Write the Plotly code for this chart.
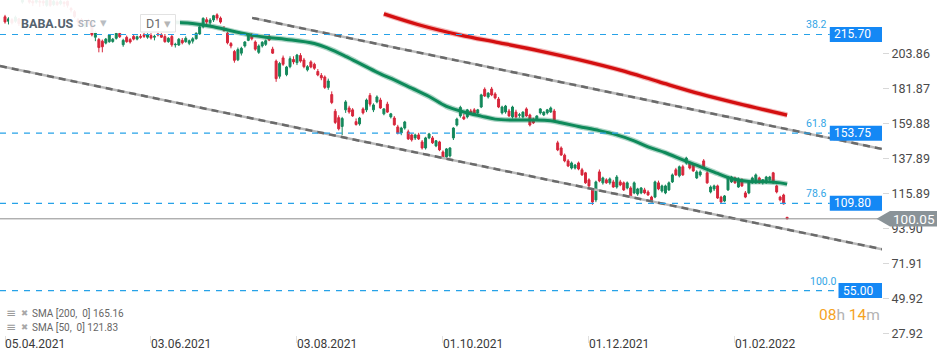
import plotly.graph_objects as go
import pandas as pd

# ------------------------------------------------------------------ data
HOLIDAYS = ["2021-05-31", "2021-07-05", "2021-09-06", "2021-11-25",
            "2021-12-24", "2022-01-17", "2022-02-21"]
dates = [d.strftime("%Y-%m-%d") for d in
         pd.bdate_range("2021-04-05", "2022-02-23", freq="C", holidays=HOLIDAYS)]

opens = [
    226.8, 224.0, 225.0, 224.0, 225.5,  236.0, 240.5, 239.0, 236.5, 236.0,
    236.5, 236.5, 234.0, 237.0, 234.5,  236.0, 235.0, 236.0, 236.5, 232.0,
    230.0, 225.0, 225.0, 221.0, 224.5,  223.0, 214.0, 212.5, 211.5, 210.3,
    211.2, 211.3, 213.3, 216.4, 209.3,  213.9, 212.5, 214.5, 212.8, 214.5,
    215.5, 214.0, 215.0, 214.0,  216.0, 215.5, 214.4, 211.2, 214.4,
    209.2, 209.1, 212.0, 211.2, 210.2,  211.5, 213.0, 216.0, 220.6, 225.0,
    223.0, 224.8, 228.0,
    226.0, 219.5,  216.5, 210.0, 205.0, 199.8,  204.0, 208.5, 212.0, 215.5, 211.0,
    204.5, 208.5, 209.5, 214.5, 206.5,  199.0, 189.5, 201.0, 190.5, 195.5,
    200.0, 198.0, 202.5, 199.7, 193.5,  198.5, 197.0, 192.5, 190.0, 189.0,
    182.5, 178.0, 167.5, 163.5, 158.0,  168.4, 169.6, 168.4, 161.0, 159.6,
    169.0, 168.4,
    177.5, 168.4, 173.4,  174.6, 165.9, 172.0, 164.0,  163.3, 157.7, 153.9, 157.0, 154.6,
    152.7, 150.8, 152.7, 148.3, 144.5,  150.8, 150.8, 145.8, 148.3,
    142.0,  138.9, 139.5, 150.8, 158.9, 164.6,  164.0, 164.0, 167.7, 168.4, 166.5,
    170.2, 181.3, 176.5, 181.5, 178.4,  175.2, 166.5, 167.1, 167.7, 164.0,
    167.0, 165.0, 164.0, 169.0, 165.2,  162.6, 162.1, 166.5, 165.2, 166.5,
    167.1, 167.7, 147.7, 144.5, 140.0,  136.4, 131.9, 131.9, 135.1,  130.8, 128.9,
    124.5, 118.2, 111.9,  129.5, 122.6, 124.5, 122.6, 123.2,  120.0, 123.2, 122.6, 119.4, 119.4,
    116.3, 115.6, 116.3, 118.2,  116.9, 113.7, 113.7, 122.6, 117.5,
    116.3, 118.2, 123.2, 130.8, 127.0,  132.7, 135.1, 135.1, 133.8, 125.7,
    127.6, 136.4, 128.9, 116.9,  118.8, 120.7, 113.7, 111.2, 118.2,  123.2,
    125.7, 120.0, 124.5, 116.3,  116.3, 122.6, 122.6, 125.7, 122.6,
    122.6, 124.5, 128.9, 120.7, 113.7,  115.0, 101.0,
]
highs = [
    228.0, 226.5, 226.0, 227.5, 226.0,  242.5, 242.0, 240.0, 237.5, 238.5,
    237.5, 237.5, 237.5, 238.0, 237.5,  237.0, 237.5, 236.5, 237.0, 233.0,
    231.0, 226.0, 226.0, 223.5, 225.5,  224.0, 218.0, 213.5, 212.5, 213.5,
    216.0, 213.5, 217.5, 217.5, 213.0,  215.0, 213.5, 215.5, 215.0, 216.0,
    217.0, 216.5, 216.5, 215.5,  218.0, 216.5, 216.0, 214.0, 215.5,
    210.5, 213.5, 213.5, 214.5, 212.5,  214.0, 217.0, 221.0, 226.5, 226.5,
    226.0, 228.0, 229.0,
    227.0, 221.0,  217.5, 211.0, 206.0, 207.5,  208.0, 211.5, 216.0, 216.5, 212.0,
    209.5, 211.5, 212.5, 216.0, 208.0,  200.0, 198.5, 202.5, 196.0, 202.0,
    202.0, 203.5, 204.0, 201.0, 196.5,  199.5, 198.0, 194.0, 191.5, 190.0,
    188.0, 180.0, 169.0, 165.0, 164.0,  174.5, 171.0, 169.5, 163.0, 164.0,
    170.0, 175.5,
    179.0, 172.5, 177.5,  176.0, 169.5, 173.5, 166.5,  164.5, 159.0, 157.8, 161.5, 156.0,
    153.5, 153.5, 154.0, 149.5, 151.5,  154.0, 152.0, 149.5, 149.0,
    143.0,  144.5, 145.0, 157.5, 163.5, 171.0,  166.0, 169.0, 169.0, 169.5, 169.0,
    178.5, 182.5, 179.5, 182.8, 179.5,  176.5, 171.0, 171.5, 169.0, 171.0,
    168.5, 166.5, 167.5, 170.0, 166.0,  163.5, 165.0, 169.5, 167.5, 169.0,
    170.5, 169.0, 149.0, 145.5, 141.0,  137.5, 136.0, 134.5, 136.0,  132.0, 129.5,
    125.5, 119.0, 124.0,  131.0, 126.5, 125.5, 126.0, 124.5,  127.5, 124.5, 123.5, 123.5, 120.5,
    123.5, 119.5, 120.0, 119.5,  118.0, 114.5, 124.0, 124.0, 121.5,
    121.5, 123.5, 128.5, 132.0, 133.5,  134.0, 139.0, 136.0, 134.5, 130.5,
    130.5, 137.5, 130.0, 121.0,  121.5, 121.5, 114.5, 115.0, 127.0,  127.0,
    126.5, 126.0, 125.5, 117.5,  123.5, 126.5, 128.5, 126.5, 125.0,
    127.0, 127.0, 129.5, 121.5, 114.5,  115.8, 101.2,
]
lows = [
    222.5, 222.0, 222.0, 223.0, 221.0,  235.0, 237.5, 235.0, 233.5, 235.0,
    233.0, 233.5, 233.0, 233.0, 233.5,  233.5, 234.0, 233.0, 232.5, 229.5,
    226.0, 221.0, 221.5, 219.5, 222.0,  214.5, 211.5, 204.5, 204.5, 209.5,
    210.5, 210.5, 212.5, 213.5, 208.0,  210.5, 210.0, 212.0, 212.0, 213.0,
    213.5, 213.0, 212.5, 212.0,  214.5, 213.5, 210.5, 210.5, 208.0,
    207.5, 208.5, 209.5, 210.5, 209.0,  210.0, 212.5, 215.5, 219.5, 222.0,
    221.5, 223.5, 224.5,
    222.5, 217.5,  209.5, 207.0, 198.0, 199.0,  202.5, 207.5, 211.5, 212.0, 205.5,
    203.5, 207.5, 208.5, 211.5, 203.5,  186.0, 188.0, 196.0, 189.5, 194.5,
    197.0, 196.5, 198.0, 194.5, 192.5,  194.5, 193.5, 189.5, 187.0, 181.5,
    181.0, 172.0, 159.5, 155.5, 152.5,  166.5, 166.0, 164.0, 158.5, 158.5,
    165.5, 167.0,
    170.5, 167.0, 172.5,  169.0, 165.0, 166.5, 163.0,  158.5, 153.0, 152.5, 156.0, 149.5,
    148.5, 149.5, 149.5, 143.5, 143.5,  150.0, 147.0, 145.0, 142.5,
    137.5,  137.5, 138.5, 149.5, 158.0, 163.5,  162.0, 163.0, 165.5, 165.0, 165.5,
    169.5, 176.5, 175.5, 177.0, 175.0,  169.5, 165.5, 166.0, 164.0, 163.0,
    163.0, 163.5, 163.0, 164.0, 158.0,  159.5, 161.5, 165.5, 164.5, 165.5,
    166.5, 161.5, 142.5, 139.5, 135.5,  132.5, 131.0, 131.0, 130.5,  127.0, 122.0,
    120.0, 108.8, 110.5,  123.0, 121.5, 122.0, 121.5, 119.5,  119.0, 120.5, 117.5, 118.5, 113.0,
    115.5, 114.5, 115.5, 115.5,  114.5, 110.5, 113.0, 118.0, 116.5,
    115.5, 117.5, 122.5, 127.0, 126.0,  127.0, 134.0, 131.0, 129.5, 125.0,
    126.5, 131.5, 122.0, 116.0,  117.5, 112.5, 110.0, 110.5, 117.5,  122.5,
    122.0, 119.5, 120.0, 113.0,  115.5, 122.0, 122.0, 122.0, 121.5,
    122.0, 123.5, 122.0, 116.0, 111.0,  109.0, 99.8,
]
closes = [
    223.6, 225.5, 223.0, 226.5, 222.5,  241.0, 239.5, 236.0, 235.5, 237.0,
    236.0, 235.5, 237.0, 234.0, 236.5,  234.5, 236.5, 235.0, 234.0, 231.0,
    227.0, 223.5, 222.0, 222.5, 223.5,  215.5, 216.6, 207.5, 208.0, 212.8,
    215.4, 212.7, 216.4, 214.3, 212.0,  211.2, 211.0, 212.8, 214.3, 214.0,
    214.5, 215.5, 213.5, 214.5,  215.5, 214.0, 211.2, 213.3, 209.2,
    209.5, 212.7, 210.5, 213.3, 211.8,  213.0, 216.5, 220.5, 225.8, 223.5,
    224.8, 227.5, 226.0,
    223.5, 218.2,  210.5, 208.5, 199.5, 206.2,  207.0, 211.0, 215.4, 213.0, 206.5,
    208.5, 210.8, 211.8, 212.2, 204.0,  188.0, 197.5, 197.0, 195.3, 200.5,
    198.5, 202.8, 199.0, 195.5, 195.5,  195.3, 194.5, 190.3, 188.5, 182.5,
    186.5, 173.0, 160.5, 156.5, 163.0,  173.4, 167.1, 164.6, 159.2, 163.3,
    166.5, 174.6,
    172.0, 171.5, 176.5,  169.6, 169.0, 167.0, 165.9,  159.0, 153.9, 157.0, 160.8, 150.2,
    149.6, 152.7, 150.2, 144.5, 150.8,  153.3, 147.7, 149.0, 143.3,
    138.3,  143.9, 144.5, 157.0, 162.6, 170.0,  162.7, 168.4, 166.5, 165.9, 168.4,
    177.8, 177.1, 178.9, 177.8, 175.9,  170.2, 170.2, 170.8, 164.6, 170.2,
    164.0, 165.3, 167.0, 164.6, 158.9,  160.2, 164.6, 169.0, 167.0, 168.4,
    169.6, 162.1, 143.3, 140.1, 136.4,  133.2, 135.1, 133.8, 131.3,  127.6, 122.6,
    120.7, 110.6, 123.2,  123.8, 125.7, 122.6, 125.1, 120.0,  126.3, 121.3, 118.2, 122.6, 113.7,
    122.6, 118.8, 119.4, 116.3,  115.0, 111.2, 123.2, 118.8, 120.7,
    120.7, 122.6, 127.6, 127.6, 132.7,  127.6, 138.2, 131.9, 130.1, 129.5,
    129.5, 132.0, 122.6, 120.0,  120.7, 113.1, 110.6, 114.4, 126.3,  126.3,
    122.6, 125.1, 120.7, 113.7,  122.6, 125.7, 127.6, 122.6, 124.5,
    126.3, 126.3, 122.6, 116.9, 111.9,  109.4, 100.05,
]
assert len(dates) == len(opens) == len(highs) == len(lows) == len(closes), \
    (len(dates), len(opens), len(highs), len(lows), len(closes))

sma50_dates = ["2021-06-14", "2021-06-22", "2021-06-29", "2021-07-07", "2021-07-14",
               "2021-07-21", "2021-07-29", "2021-08-10", "2021-08-16", "2021-08-23",
               "2021-08-30", "2021-09-07", "2021-09-13", "2021-09-20", "2021-09-27",
               "2021-10-04", "2021-10-11", "2021-10-18", "2021-10-22", "2021-10-29",
               "2021-11-05", "2021-11-15", "2021-11-18", "2021-11-26", "2021-12-06",
               "2021-12-13", "2021-12-20", "2021-12-27", "2022-01-03", "2022-01-10",
               "2022-01-18", "2022-01-25", "2022-01-31", "2022-02-07", "2022-02-14",
               "2022-02-18", "2022-02-23"]
sma50_values = [223.3, 222.3, 220.6, 218.0, 215.7,
                214.0, 212.6, 210.0, 207.0, 202.0,
                196.5, 191.0, 187.2, 182.0, 176.8,
                170.6, 167.1, 164.5, 162.6, 162.0,
                162.0, 161.6, 160.3, 158.0, 155.4,
                152.7, 149.0, 145.2, 141.5, 137.0,
                132.8, 128.5, 125.3, 123.4, 123.3,
                122.6, 121.83]

sma200_dates = ["2021-09-08", "2021-09-22", "2021-10-08", "2021-10-25", "2021-11-10",
                "2021-11-26", "2021-12-14", "2021-12-30", "2022-01-18", "2022-02-02",
                "2022-02-23"]
sma200_values = [228.6, 221.8, 215.3, 210.6, 205.3,
                 199.9, 193.3, 186.1, 178.4, 172.3,
                 165.16]

fib_levels = ["38.2", "61.8", "78.6", "100.0"]
fib_prices = [215.70, 153.75, 109.80, 55.00]

current_price = 100.05
sma_legend = ["SMA [200,&nbsp; 0] 165.16", "SMA [50,&nbsp; 0] 121.83"]

y_ticks = [27.92, 49.92, 71.91, 93.90, 115.89, 137.89, 159.88, 181.87, 203.86]
x_tick_dates = ["2021-04-05", "2021-06-03", "2021-08-03", "2021-10-01", "2021-12-01", "2022-02-01"]
x_tick_labels = ["05.04.2021", "03.06.2021", "03.08.2021", "01.10.2021", "01.12.2021", "01.02.2022"]

# channel trend lines (trading-day index, price)
upper_channel_x = [71.1, 252.3]
upper_channel_y = [226.1, 143.9]
lower_channel_x = [-1.44, 252.3]
lower_channel_y = [195.9, 81.0]

countdown_hours, countdown_minutes = "08", "14"

# ------------------------------------------------------------------ style
W, H = 950, 360
PLOT_W, PLOT_H = 882, 335
GREEN = "#14885b"
RED = "#d7263b"
BLUE_LINE = "#27a2e8"
BLUE_BOX = "#1488f5"
FONT = "Roboto, Arial, sans-serif"


def PX(px):
    return px / PLOT_W


def PY(py):
    return (PLOT_H - py) / PLOT_H


fig = go.Figure()
fig.add_trace(go.Candlestick(
    x=dates, open=opens, high=highs, low=lows, close=closes,
    increasing=dict(line=dict(color=GREEN, width=1), fillcolor=GREEN),
    decreasing=dict(line=dict(color=RED, width=1), fillcolor=RED),
    whiskerwidth=0, showlegend=False, hoverinfo="skip"))

fig.add_trace(go.Scatter(x=sma50_dates, y=sma50_values, mode="lines",
                         line=dict(color="rgba(20,136,91,0.35)", width=5.5, shape="spline"),
                         hoverinfo="skip", showlegend=False))
fig.add_trace(go.Scatter(x=sma50_dates, y=sma50_values, mode="lines",
                         line=dict(color="#0e8a5a", width=3, shape="spline"),
                         hoverinfo="skip", showlegend=False))
fig.add_trace(go.Scatter(x=sma200_dates, y=sma200_values, mode="lines",
                         line=dict(color="rgba(215,20,20,0.30)", width=5.5, shape="spline"),
                         hoverinfo="skip", showlegend=False))
fig.add_trace(go.Scatter(x=sma200_dates, y=sma200_values, mode="lines",
                         line=dict(color="#d40f10", width=3.3, shape="spline"),
                         hoverinfo="skip", showlegend=False))

shapes = []
annotations = []

# channel lines: light grey base + darker dashes
for cx, cy in ((upper_channel_x, upper_channel_y), (lower_channel_x, lower_channel_y)):
    shapes.append(dict(type="line", xref="x", yref="y", x0=cx[0], x1=cx[1], y0=cy[0], y1=cy[1],
                       line=dict(color="#b9b9b9", width=2.5), layer="above"))
    shapes.append(dict(type="line", xref="x", yref="y", x0=cx[0], x1=cx[1], y0=cy[0], y1=cy[1],
                       line=dict(color="#6a6a6a", width=2.5, dash="7px,5px"), layer="above"))

# fibonacci levels
for lvl, price in zip(fib_levels, fib_prices):
    txt = f"{price:.2f}"
    box_left = PLOT_W - 8.7 * len(txt)
    shapes.append(dict(type="line", xref="paper", yref="y", x0=0, x1=PX(box_left), y0=price, y1=price,
                       line=dict(color=BLUE_LINE, width=1.2, dash="6px,6px"), layer="above"))
    shapes.append(dict(type="rect", xref="paper", yref="y", ysizemode="pixel", yanchor=price,
                       x0=PX(box_left), x1=1, y0=-7.5, y1=7.5, fillcolor=BLUE_BOX,
                       line=dict(width=0), layer="above"))
    annotations.append(dict(xref="paper", yref="y", x=PX(box_left + 2), y=price, xanchor="left",
                            yanchor="middle", text=txt, showarrow=False,
                            font=dict(size=12, color="white", family=FONT)))
    annotations.append(dict(xref="paper", yref="y", x=PX(box_left - 1), y=price, xanchor="right",
                            yanchor="bottom", yshift=1, text=lvl, showarrow=False,
                            font=dict(size=10.5, color="#33a6e6", family=FONT)))

# current price line and tag
shapes.append(dict(type="line", xref="paper", yref="y", x0=0, x1=PX(878), y0=current_price,
                   y1=current_price, line=dict(color="#8c8c8c", width=1), layer="above"))
shapes.append(dict(type="path", xref="paper", yref="y", xsizemode="pixel", ysizemode="pixel",
                   xanchor=1, yanchor=current_price,
                   path="M -5.5 0 L 8 7.7 L 55 7.7 L 55 -7.7 L 8 -7.7 Z",
                   fillcolor="#8a9398", line=dict(width=0), layer="above"))
annotations.append(dict(xref="paper", yref="y", x=PX(913.5), y=current_price, xanchor="center",
                        yanchor="middle", text=f"{current_price:.2f}", showarrow=False,
                        font=dict(size=13.5, color="white", family=FONT)))

# header overlay (translucent) and D1 box
shapes.append(dict(type="rect", xref="paper", yref="paper", x0=PX(9), x1=PX(180), y0=PY(33), y1=1,
                   fillcolor="rgba(255,255,255,0.92)", line=dict(width=0), layer="above"))
shapes.append(dict(type="rect", xref="paper", yref="paper", x0=PX(140.5), x1=PX(175.5),
                   y0=PY(32), y1=PY(14.5), fillcolor="rgba(255,255,255,0.85)",
                   line=dict(color="#e2e2e2", width=1), layer="above"))

annotations += [
    dict(xref="paper", yref="paper", x=PX(19), y=PY(23), xanchor="left", yanchor="middle",
         text="<b>BABA.US</b>", showarrow=False, font=dict(size=12.5, color="#566370", family=FONT)),
    dict(xref="paper", yref="paper", x=PX(76), y=PY(24), xanchor="left", yanchor="middle",
         text="<b>STC</b>", showarrow=False, font=dict(size=9.5, color="#adb4bc", family=FONT)),
    dict(xref="paper", yref="paper", x=PX(98), y=PY(22), xanchor="left", yanchor="middle",
         text="▾", showarrow=False, font=dict(size=13, color="#b9bdc2", family=FONT)),
    dict(xref="paper", yref="paper", x=PX(144), y=PY(23.5), xanchor="left", yanchor="middle",
         text="D1", showarrow=False, font=dict(size=12.5, color="#6b6b6b", family=FONT)),
    dict(xref="paper", yref="paper", x=PX(162), y=PY(23), xanchor="left", yanchor="middle",
         text="▾", showarrow=False, font=dict(size=13, color="#b5b5b5", family=FONT)),
]

# SMA legend lower-left
for k, txt in enumerate(sma_legend):
    yc = 313.7 + 14 * k
    annotations.append(dict(xref="paper", yref="paper", x=PX(4), y=PY(yc - 1), xanchor="left",
                            yanchor="middle", text="≡", showarrow=False,
                            font=dict(size=12, color="#9a9a9a", family="DejaVu Sans")))
    annotations.append(dict(xref="paper", yref="paper", x=PX(18.5), y=PY(yc - 1), xanchor="left",
                            yanchor="middle", text="✖", showarrow=False,
                            font=dict(size=8.5, color="#a8a8a8", family="DejaVu Sans")))
    annotations.append(dict(xref="paper", yref="paper", x=PX(30), y=PY(yc), xanchor="left",
                            yanchor="middle", text=txt, showarrow=False,
                            font=dict(size=10, color="#666666", family=FONT)))

# countdown
annotations.append(dict(
    xref="paper", yref="paper", x=PX(882), y=PY(314.5), xanchor="right", yanchor="middle",
    text=(f"<span style='color:#f5a31f'>{countdown_hours}</span><span style='color:#b3b3b3'>h</span> "
          f"<span style='color:#f5a31f'>{countdown_minutes}</span><span style='color:#b3b3b3'>m</span>"),
    showarrow=False, font=dict(size=15.5, family=FONT)))

# date labels (left-aligned at the tick marks)
for d, lab in zip(x_tick_dates, x_tick_labels):
    annotations.append(dict(xref="x", yref="paper", x=d, y=0, xanchor="left", yanchor="top",
                            xshift=-2, yshift=0, text=lab, showarrow=False,
                            font=dict(size=12, color="#3a3a3a", family=FONT)))

X0 = -5 / 3.476
X1 = (PLOT_W - 5) / 3.476
Y0, Y1 = 27.16, 237.33

fig.update_layout(
    template="none",
    width=W, height=H,
    margin=dict(l=0, r=W - PLOT_W, t=0, b=H - PLOT_H, pad=0),
    paper_bgcolor="white", plot_bgcolor="white",
    font=dict(family=FONT, color="#555555"),
    boxgap=0.2,
    showlegend=False,
    shapes=shapes,
    annotations=annotations,
    xaxis=dict(type="category", categoryorder="array", categoryarray=dates,
               range=[X0, X1], rangeslider=dict(visible=False),
               showgrid=False, zeroline=False, showline=False,
               ticks="outside", ticklen=7, tickwidth=1, tickcolor="#e0e0e0",
               tickvals=x_tick_dates, showticklabels=False, automargin=False, fixedrange=True),
    yaxis=dict(side="right", range=[Y0, Y1], tickvals=y_ticks,
               ticktext=[f"{v:.2f}" for v in y_ticks],
               ticks="outside", ticklen=6, tickwidth=1, tickcolor="#d8d8d8",
               showgrid=False, zeroline=False, showline=False, automargin=False,
               tickfont=dict(size=12.5, color="#4a4a4a", family=FONT), fixedrange=True),
)

fig.write_html("out.html", config={"displayModeBar": False},
               post_script="document.body.style.margin='0px';document.body.style.padding='0px';")
